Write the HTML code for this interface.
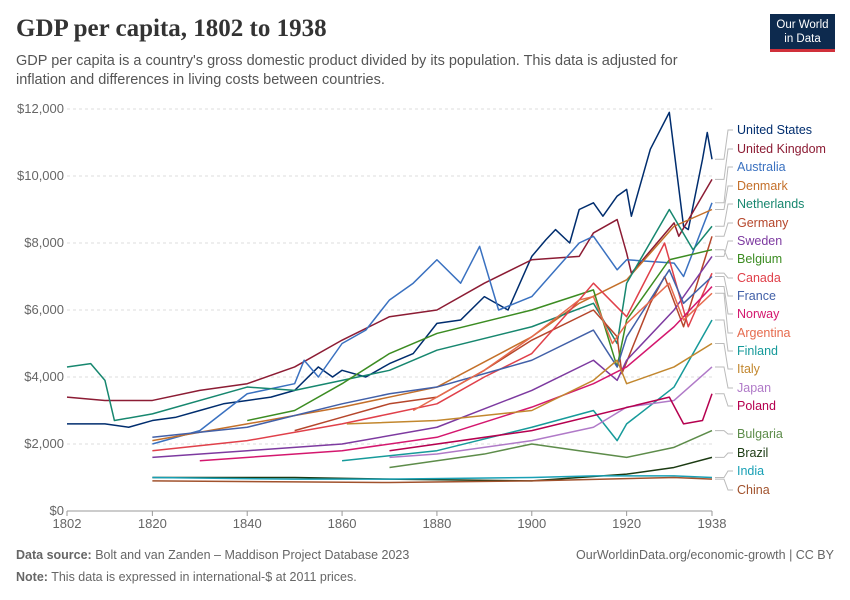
<!DOCTYPE html>
<html><head><meta charset="utf-8">
<style>
body{margin:0;background:#fff;font-family:"Liberation Sans",sans-serif;}
#wrap{position:relative;width:850px;height:600px;overflow:hidden}
h1{position:absolute;left:16px;top:15px;margin:0;font-family:"Liberation Serif",serif;font-size:25px;font-weight:bold;color:#333}
.sub{position:absolute;left:16px;top:52px;width:700px;font-size:14.5px;line-height:19px;color:#555}
.logo{position:absolute;left:770px;top:14px;width:65px;height:38px;background:#0d2a4e;color:#fff;font-size:11.5px;text-align:center;line-height:14px;padding-top:4px;box-sizing:border-box;border-bottom:3px solid #d0303a}
.foot{position:absolute;font-size:12.5px;color:#666}
</style></head><body>
<div id="wrap">
<h1>GDP per capita, 1802 to 1938</h1>
<div class="sub">GDP per capita is a country's gross domestic product divided by its population. This data is adjusted for inflation and differences in living costs between countries.</div>
<div class="logo">Our World<br>in Data</div>
<svg id="chart" width="850" height="600" style="position:absolute;left:0;top:0"></svg>
<div class="foot" style="left:16px;top:548px"><b>Data source:</b> Bolt and van Zanden – Maddison Project Database 2023</div>
<div class="foot" style="right:16px;top:548px">OurWorldinData.org/economic-growth | CC BY</div>
<div class="foot" style="left:16px;top:570px"><b>Note:</b> This data is expressed in international-$ at 2011 prices.</div>
</div>
<script>
const yTicks=[0,2000,4000,6000,8000,10000,12000];
const yTickLabels=["$0","$2,000","$4,000","$6,000","$8,000","$10,000","$12,000"];
const xTicks=[1802,1820,1840,1860,1880,1900,1920,1938];
const countries=["United States","United Kingdom","Australia","Denmark","Netherlands","Germany","Sweden","Belgium","Canada","France","Norway","Argentina","Finland","Italy","Japan","Poland","Bulgaria","Brazil","India","China"];
const colors=["#002d6e","#8c1c34","#3a71c0","#c4702a","#17876f","#b5462b","#7d3aa0","#3c8c22","#e0404a","#4260a8","#d4176e","#e66a4d","#169a9a","#c2872e","#b07ac8","#b5004f","#5d8c4a","#1b3a12","#18a0b5","#a1522d"];
const years=[
[1802,1810,1815,1820,1825,1830,1835,1840,1845,1850,1855,1858,1860,1865,1870,1875,1880,1885,1890,1895,1900,1903,1905,1908,1910,1913,1915,1918,1920,1921,1925,1929,1932,1933,1936,1937,1938],
[1802,1810,1820,1830,1840,1850,1860,1870,1880,1890,1900,1910,1913,1918,1920,1921,1930,1931,1938],
[1820,1830,1840,1850,1852,1855,1860,1865,1870,1875,1880,1885,1889,1893,1900,1905,1910,1913,1918,1920,1930,1932,1938],
[1820,1840,1860,1880,1900,1910,1920,1930,1938],
[1802,1807,1810,1812,1820,1840,1850,1860,1870,1880,1900,1913,1918,1920,1929,1934,1938],
[1850,1860,1870,1880,1890,1900,1913,1918,1919,1925,1928,1932,1938],
[1820,1840,1860,1880,1900,1913,1918,1920,1930,1938],
[1840,1850,1860,1870,1880,1900,1913,1918,1920,1929,1938],
[1820,1840,1860,1870,1880,1890,1900,1910,1913,1920,1928,1933,1938],
[1820,1840,1860,1870,1880,1900,1913,1918,1920,1929,1932,1938],
[1830,1860,1880,1900,1913,1920,1930,1938],
[1875,1890,1900,1910,1913,1917,1920,1929,1932,1938],
[1860,1880,1900,1913,1918,1920,1930,1938],
[1861,1880,1900,1913,1918,1920,1930,1938],
[1870,1880,1900,1913,1920,1930,1938],
[1870,1900,1929,1932,1936,1938],
[1870,1890,1900,1910,1920,1930,1938],
[1820,1850,1870,1900,1920,1930,1938],
[1820,1850,1870,1900,1913,1930,1938],
[1820,1850,1870,1900,1930,1938]];
const values=[
[2600,2600,2500,2700,2800,3000,3200,3300,3400,3600,4300,4000,4200,4000,4400,4700,5600,5700,6400,6000,7600,8100,8400,8000,9000,9200,8800,9400,9600,8800,10800,11900,8500,8400,10500,11300,10500],
[3400,3300,3300,3600,3800,4300,5100,5800,6000,6800,7500,7600,8300,8700,7700,7100,8600,8200,9900],
[2000,2400,3500,3800,4500,4000,5000,5400,6300,6800,7500,6800,7900,6000,6400,7200,8000,8200,7200,7500,7400,7000,9200],
[2100,2600,3100,3700,5200,6200,6900,8500,9000],
[4300,4400,3900,2700,2900,3700,3600,3900,4200,4800,5500,6200,5000,6800,9000,7800,8500],
[2400,2800,3200,3400,4200,5100,6000,5200,4100,6200,7000,5500,8200],
[1600,1800,2000,2500,3600,4500,3900,4500,6000,7600],
[2700,3000,3800,4700,5300,6000,6600,4300,5700,7500,7800],
[1800,2100,2600,2900,3200,4000,4700,6300,6800,5800,8000,5500,7100],
[2200,2500,3200,3500,3700,4500,5400,4300,5200,7200,6200,7000],
[1500,1800,2200,3100,3800,4300,5500,6700],
[3000,4200,5200,6300,6400,5000,5600,6800,5700,6500],
[1500,1800,2500,3000,2100,2600,3700,5700],
[2600,2700,3000,3900,4500,3800,4300,5000],
[1600,1700,2100,2500,3100,3300,4300],
[1800,2400,3400,2600,2700,3500],
[1300,1700,2000,1800,1600,1900,2400],
[1000,1000,950,900,1100,1300,1600],
[1000,950,950,1000,1050,1050,1000],
[900,870,850,900,1000,950]];
const labelY=[134,153,171,190,208,227,245,263,282,300,318,337,355,373,392,410,438,457,475,494];
const NS="http://www.w3.org/2000/svg";
const svg=document.getElementById('chart');
const x0=67,x1=712,y0=511,y1=109;
const xs=v=>x0+(v-1802)/(1938-1802)*(x1-x0);
const ys=v=>y0-(v/12000)*(y0-y1);
function mk(t,a){const e=document.createElementNS(NS,t);for(const k in a)e.setAttribute(k,a[k]);svg.appendChild(e);return e;}
yTicks.forEach((t,i)=>{
 const g=mk('line',{x1:x0,x2:x1,y1:ys(t),y2:ys(t),stroke:i==0?'#999':'#ddd','stroke-dasharray':i==0?'':'3,3'});
 
 
 const l=mk('text',{x:64,y:ys(t)+4,'text-anchor':'end','font-size':13,fill:'#666','font-family':'Liberation Sans'});
 l.textContent=yTickLabels[i];
 
 
});
xTicks.forEach(t=>{
 const tk=mk('line',{x1:xs(t),x2:xs(t),y1:y0,y2:y0+5,stroke:'#999'});
 
 
 const l=mk('text',{x:xs(t),y:528,'text-anchor':'middle','font-size':13,fill:'#666','font-family':'Liberation Sans'});
 l.textContent=t;
 
 
});
countries.forEach((c,i)=>{
 const pts=years[i].map((yr,j)=>xs(yr)+','+ys(values[i][j])).join(' ');
 const p=mk('polyline',{points:pts,fill:'none',stroke:colors[i],'stroke-width':1.5,'stroke-linejoin':'round'});
 
 
 const ly=ys(values[i][values[i].length-1]);
 const con=mk('polyline',{points:`${x1+3},${ly} ${724},${ly} ${728},${labelY[i]-4} ${733},${labelY[i]-4}`,fill:'none',stroke:'#bbb','stroke-width':1});
 
 
 const t=mk('text',{x:737,y:labelY[i],'font-size':12.5,fill:colors[i],'font-family':'Liberation Sans'});
 t.textContent=c;
 
 
});
</script>
</body></html>
